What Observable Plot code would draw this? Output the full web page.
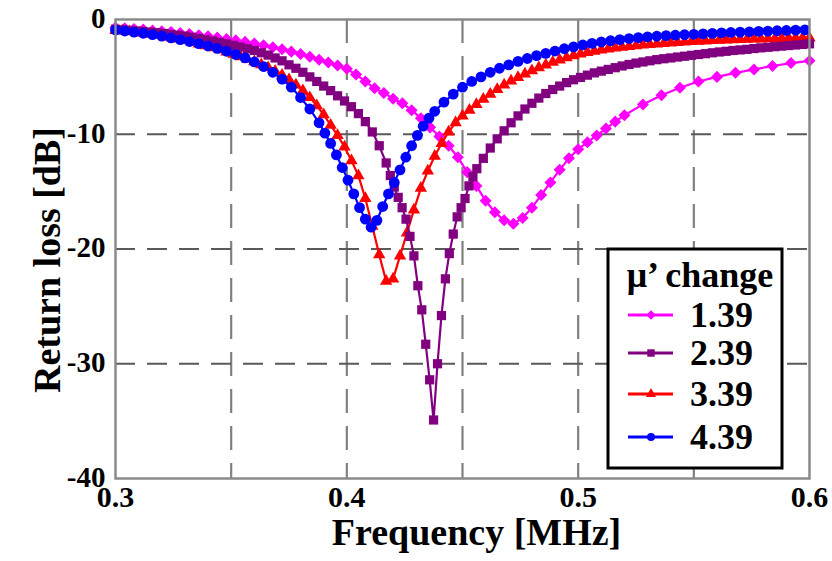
<!DOCTYPE html>
<html><head><meta charset="utf-8">
<script src="https://cdn.jsdelivr.net/npm/d3@7"></script>
<script src="https://cdn.jsdelivr.net/npm/@observablehq/plot@0.6"></script>
<style>
body{margin:0;background:#fff}
#chart{width:832px;height:561px}
#chart svg text{font-family:"Liberation Serif","DejaVu Serif","Times New Roman",serif !important;font-weight:bold}
</style></head><body><div id="chart"></div>
<script>
const xTicks = [0.3, 0.4, 0.5, 0.6];
const xTickLabels = ["0.3", "0.4", "0.5", "0.6"];
const yTicks = [0, -10, -20, -30, -40];
const yTickLabels = ["0", "-10", "-20", "-30", "-40"];
const xGrid = [0.35, 0.4, 0.45, 0.5, 0.55];
const yGrid = [-10, -20, -30];
const seriesNames = ["1.39", "2.39", "3.39", "4.39"];
const seriesColors = ["#ff00ff", "#800080", "#ff0000", "#0000ff"];
const legendTitle = "\u03bc\u2019 change";
const xTitle = "Frequency [MHz]";
const yTitle = "Return loss [dB]";

// mu' = 1.39 (magenta, diamonds)
const freq139 = [0.300,0.304,0.308,0.312,0.316,0.320,0.324,0.328,0.332,0.336,0.340,0.344,0.348,0.352,0.356,0.360,0.364,0.368,0.372,0.376,0.380,0.384,0.388,0.392,0.396,0.400,0.404,0.408,0.412,0.416,0.420,0.424,0.428,0.432,0.436,0.440,0.444,0.448,0.452,0.456,0.460,0.464,0.468,0.472,0.476,0.480,0.484,0.488,0.492,0.496,0.500,0.504,0.508,0.512,0.516,0.520,0.528,0.536,0.544,0.552,0.560,0.568,0.576,0.584,0.592,0.600];
const rl139 = [-0.70,-0.76,-0.82,-0.88,-0.95,-1.02,-1.10,-1.18,-1.27,-1.37,-1.47,-1.58,-1.70,-1.82,-1.95,-2.10,-2.25,-2.42,-2.60,-2.80,-3.00,-3.25,-3.50,-3.75,-4.00,-4.30,-4.80,-5.40,-6.00,-6.40,-6.90,-7.30,-7.90,-8.60,-9.40,-10.20,-11.00,-12.00,-13.30,-14.50,-15.80,-16.80,-17.50,-17.80,-17.30,-16.40,-15.30,-14.20,-13.10,-12.10,-11.30,-10.70,-10.10,-9.50,-8.90,-8.35,-7.40,-6.60,-5.95,-5.40,-5.00,-4.65,-4.35,-4.05,-3.80,-3.60];

// mu' = 2.39 (purple, squares)
const freq239 = [0.300,0.303,0.306,0.309,0.312,0.315,0.318,0.321,0.324,0.327,0.330,0.333,0.336,0.339,0.342,0.345,0.348,0.351,0.354,0.357,0.360,0.363,0.366,0.369,0.372,0.375,0.378,0.381,0.384,0.387,0.390,0.393,0.396,0.399,0.402,0.405,0.408,0.411,0.414,0.417,
 0.4188,0.4205,0.4222,0.4239,0.4256,0.4273,0.4290,0.4307,0.4324,0.4341,0.4358,0.4375,0.4392,0.4409,0.4426,0.4443,0.4460,0.4477,0.4494,0.4511,0.4528,0.4545,0.4562,
 0.459,0.462,0.465,0.468,0.471,0.474,0.477,0.480,0.483,0.486,0.489,0.492,0.495,0.498,0.501,0.504,0.507,0.510,0.513,0.516,0.519,0.522,0.525,0.528,0.531,0.534,0.537,0.540,0.543,0.546,0.549,0.552,0.555,0.558,0.561,0.564,0.567,0.570,0.573,0.576,0.579,0.582,0.585,0.588,0.591,0.594,0.597,0.600];
const rl239 = [-0.85,-0.90,-0.95,-1.00,-1.05,-1.10,-1.15,-1.22,-1.30,-1.37,-1.45,-1.55,-1.65,-1.77,-1.88,-2.00,-2.12,-2.25,-2.40,-2.55,-2.70,-2.90,-3.10,-3.35,-3.60,-3.95,-4.25,-4.60,-5.00,-5.40,-5.80,-6.20,-6.65,-7.10,-7.60,-8.20,-8.90,-9.80,-11.00,-12.50,
 -13.6,-14.6,-15.5,-16.4,-17.4,-18.9,-20.6,-23.2,-25.3,-28.3,-31.4,-34.9,-30.0,-25.8,-22.6,-20.4,-18.7,-17.2,-16.4,-15.6,-14.5,-13.7,-13.0,
 -12.1,-11.2,-10.4,-9.7,-9.0,-8.4,-7.8,-7.3,-6.85,-6.45,-6.1,-5.8,-5.5,-5.25,-5.05,-4.85,-4.65,-4.5,-4.35,-4.2,-4.05,-3.92,-3.8,-3.7,-3.6,-3.5,-3.42,-3.35,-3.27,-3.2,-3.12,-3.05,-2.98,-2.9,-2.83,-2.77,-2.7,-2.65,-2.6,-2.53,-2.47,-2.42,-2.37,-2.32,-2.27,-2.22,-2.17,-2.12];

// mu' = 3.39 (red, triangles)
const freq339 = [0.300,0.303,0.306,0.309,0.312,0.315,0.318,0.321,0.324,0.327,0.330,0.333,0.336,0.339,0.342,0.345,0.348,0.351,0.354,0.357,0.360,0.363,0.366,0.369,0.372,0.375,0.378,0.381,0.384,0.387,0.390,0.393,0.396,0.399,0.402,0.405,0.408,0.411,0.414,0.417,0.420,0.423,0.426,0.429,0.432,0.435,0.438,0.441,0.444,0.447,0.450,0.453,0.456,0.459,0.462,0.465,0.468,0.471,0.474,0.477,0.480,0.483,0.486,0.489,0.492,0.495,0.498,0.501,0.504,0.507,0.510,0.513,0.516,0.519,0.522,0.525,0.528,0.531,0.534,0.537,0.540,0.543,0.546,0.549,0.552,0.555,0.558,0.561,0.564,0.567,0.570,0.573,0.576,0.579,0.582,0.585,0.588,0.591,0.594,0.597,0.600];
const rl339 = [-0.95,-1.00,-1.06,-1.12,-1.20,-1.28,-1.37,-1.47,-1.58,-1.70,-1.83,-1.97,-2.12,-2.28,-2.45,-2.63,-2.82,-3.02,-3.23,-3.45,-3.68,-3.93,-4.20,-4.50,-4.85,-5.25,-5.70,-6.20,-6.80,-7.50,-8.30,-9.20,-10.10,-11.10,-12.30,-13.60,-15.60,-18.00,-20.50,-22.80,-22.60,-20.60,-18.60,-16.60,-14.70,-13.20,-11.90,-10.80,-9.80,-9.00,-8.40,-7.90,-7.40,-6.95,-6.50,-6.10,-5.70,-5.35,-5.05,-4.75,-4.45,-4.20,-3.95,-3.72,-3.52,-3.33,-3.15,-3.00,-2.87,-2.76,-2.65,-2.56,-2.48,-2.41,-2.34,-2.28,-2.22,-2.17,-2.12,-2.08,-2.04,-2.00,-1.96,-1.92,-1.89,-1.86,-1.83,-1.80,-1.78,-1.76,-1.74,-1.72,-1.70,-1.69,-1.67,-1.66,-1.64,-1.63,-1.62,-1.61,-1.60];

// mu' = 4.39 (blue, circles)
const freq439 = [0.300,0.304,0.308,0.312,0.316,0.320,0.324,0.328,0.332,0.336,0.340,0.344,0.348,0.352,0.356,0.360,0.364,0.368,0.372,0.376,0.380,0.384,0.388,0.3905,0.393,0.3955,0.398,0.4005,0.403,0.4055,0.408,0.4105,0.413,0.4155,0.418,0.4205,0.423,0.4255,0.428,0.4305,0.433,0.4355,0.438,0.442,0.446,0.450,0.454,0.458,0.462,0.466,0.470,0.474,0.478,0.482,0.486,0.490,0.494,0.498,0.502,0.506,0.510,0.514,0.518,0.522,0.526,0.530,0.534,0.538,0.542,0.546,0.550,0.554,0.558,0.562,0.566,0.570,0.574,0.578,0.582,0.586,0.590,0.594,0.598];
const rl439 = [-0.90,-1.00,-1.10,-1.20,-1.32,-1.45,-1.60,-1.75,-1.92,-2.10,-2.30,-2.52,-2.77,-3.05,-3.35,-3.70,-4.10,-4.60,-5.20,-5.90,-6.80,-7.80,-9.00,-9.90,-10.80,-11.80,-12.90,-14.00,-15.20,-16.40,-17.40,-18.10,-17.50,-16.30,-15.20,-14.20,-13.10,-12.00,-11.00,-10.10,-9.30,-8.60,-8.00,-7.20,-6.50,-5.90,-5.40,-5.00,-4.60,-4.25,-3.95,-3.65,-3.40,-3.15,-2.95,-2.75,-2.55,-2.38,-2.22,-2.08,-1.96,-1.85,-1.75,-1.66,-1.58,-1.52,-1.46,-1.41,-1.37,-1.33,-1.29,-1.25,-1.21,-1.17,-1.13,-1.10,-1.07,-1.04,-1.01,-0.98,-0.96,-0.93,-0.91];

const toRows = (fs, vs) => fs.map((f, i) => ({f, v: vs[i]}));
const d139 = toRows(freq139, rl139);
const d239 = toRows(freq239, rl239);
const d339 = toRows(freq339, rl339);
const d439 = toRows(freq439, rl439);

const serif = "Liberation Serif, DejaVu Serif, serif";

const plot = Plot.plot({
  width: 832, height: 561,
  marginLeft: 115, marginRight: 23, marginTop: 19, marginBottom: 83,
  x: {domain: [0.3, 0.6]},
  y: {domain: [-40, 0]},
  style: {fontFamily: serif, fontWeight: "bold", fontSize: "28px", color: "#000", background: "#fff"},
  marks: [
    Plot.ruleX(xGrid, {stroke: "#808080", strokeWidth: 2.2, strokeDasharray: "24,13"}),
    Plot.ruleY(yGrid, {stroke: "#5a5a5a", strokeWidth: 2, strokeDasharray: "20,12"}),
    Plot.line(d139, {x: "f", y: "v", stroke: seriesColors[0], strokeWidth: 2.2}),
    Plot.dot(d139, {x: "f", y: "v", fill: seriesColors[0], symbol: "square", r: 4.8, rotate: 45}),
    Plot.line(d339, {x: "f", y: "v", stroke: seriesColors[2], strokeWidth: 2.2}),
    Plot.dot(d339, {x: "f", y: "v", fill: seriesColors[2], symbol: "triangle", r: 4.6}),
    Plot.line(d239, {x: "f", y: "v", stroke: seriesColors[1], strokeWidth: 2.2}),
    Plot.dot(d239, {x: "f", y: "v", fill: seriesColors[1], symbol: "square", r: 5.2}),
    Plot.line(d439, {x: "f", y: "v", stroke: seriesColors[3], strokeWidth: 2.2}),
    Plot.dot(d439, {x: "f", y: "v", fill: seriesColors[3], symbol: "circle", r: 5.4}),
    Plot.frame({stroke: "#8a8a8a", strokeWidth: 2.5}),
    Plot.axisX(xTicks, {tickSize: 0, tickPadding: 7, tickFormat: (d, i) => xTickLabels[i], label: null, fontSize: 30, fontWeight: "bold"}),
    Plot.axisY(yTicks, {tickSize: 0, tickPadding: 10, dy: -1, tickFormat: (d, i) => yTickLabels[i], label: null, fontSize: 29, fontWeight: "bold"}),
    Plot.text([xTitle], {text: d => d, frameAnchor: "bottom", textAnchor: "middle", dx: 14, dy: 66, fontSize: 38, fontWeight: "bold"}),
    Plot.text([yTitle], {text: d => d, frameAnchor: "left", textAnchor: "middle", lineAnchor: "middle", dx: -68, dy: 11, rotate: -90, fontSize: 38, fontWeight: "bold"})
  ]
});
document.getElementById("chart").appendChild(plot);

// legend
const svg = d3.select(plot);
const lg = svg.append("g").attr("text-anchor", "start");
lg.append("rect").attr("x", 608).attr("y", 249).attr("width", 174).attr("height", 219)
  .attr("fill", "#fff").attr("stroke", "#000").attr("stroke-width", 3);
lg.append("text").attr("x", 700).attr("y", 287).attr("text-anchor", "middle")
  .style("font-size", "36px").text(legendTitle);
const legendSymbols = [
  {sym: d3.symbolSquare, size: 45, rot: 45},
  {sym: d3.symbolSquare, size: 55, rot: 0},
  {sym: d3.symbolTriangle, size: 45, rot: 0},
  {sym: d3.symbolCircle, size: 50, rot: 0}
];
const rowY = [315, 353, 394, 437];
seriesNames.forEach((name, i) => {
  const y = rowY[i];
  lg.append("line").attr("x1", 628).attr("x2", 673).attr("y1", y).attr("y2", y)
    .attr("stroke", seriesColors[i]).attr("stroke-width", 3);
  lg.append("path").attr("d", d3.symbol(legendSymbols[i].sym, legendSymbols[i].size)())
    .attr("transform", `translate(651,${y}) rotate(${legendSymbols[i].rot})`)
    .attr("fill", seriesColors[i]);
  lg.append("text").attr("x", 690).attr("y", y + 12).attr("text-anchor", "start")
    .style("font-size", "36px").text(name);
});
</script></body></html>
